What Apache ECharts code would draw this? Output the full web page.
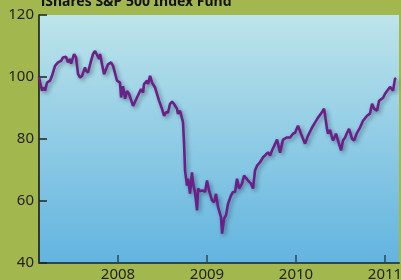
<!DOCTYPE html>
<html><head><meta charset="utf-8">
<script src="https://cdn.jsdelivr.net/npm/echarts@6/dist/echarts.min.js"></script>
<style>html,body{margin:0;padding:0;background:#a2b84e}#c{width:401px;height:280px}</style>
</head><body><div id="c"></div>
<script>
const title = "iShares S&P 500 Index Fund";
const yearTicks = [2008, 2009, 2010, 2011];
const yTicks = [40, 60, 80, 100, 120];
const years = [2007.112,2007.146,2007.169,2007.180,2007.202,2007.236,2007.258,2007.292,2007.326,2007.360,2007.382,2007.404,2007.416,2007.438,2007.461,2007.472,2007.506,2007.528,2007.551,2007.573,2007.596,2007.629,2007.640,2007.663,2007.697,2007.719,2007.742,2007.764,2007.787,2007.798,2007.820,2007.843,2007.865,2007.888,2007.921,2007.944,2007.966,2007.989,2008.022,2008.034,2008.056,2008.079,2008.101,2008.124,2008.146,2008.169,2008.191,2008.213,2008.225,2008.258,2008.281,2008.292,2008.326,2008.337,2008.360,2008.382,2008.393,2008.416,2008.438,2008.461,2008.494,2008.517,2008.539,2008.562,2008.584,2008.607,2008.629,2008.663,2008.674,2008.697,2008.719,2008.730,2008.742,2008.753,2008.775,2008.787,2008.809,2008.831,2008.843,2008.865,2008.888,2008.899,2008.921,2008.955,2008.978,2009.000,2009.022,2009.056,2009.079,2009.101,2009.124,2009.157,2009.169,2009.191,2009.213,2009.236,2009.270,2009.292,2009.315,2009.337,2009.360,2009.393,2009.416,2009.438,2009.461,2009.494,2009.517,2009.539,2009.562,2009.596,2009.629,2009.652,2009.674,2009.685,2009.708,2009.730,2009.742,2009.787,2009.820,2009.854,2009.899,2009.933,2009.966,2009.989,2010.022,2010.056,2010.101,2010.135,2010.180,2010.213,2010.247,2010.281,2010.315,2010.348,2010.360,2010.382,2010.404,2010.416,2010.449,2010.472,2010.506,2010.528,2010.551,2010.573,2010.596,2010.629,2010.652,2010.685,2010.719,2010.753,2010.798,2010.831,2010.854,2010.876,2010.910,2010.933,2010.978,2011.000,2011.022,2011.056,2011.090,2011.112,2011.124];
const prices = [100.0,95.6,96.6,95.6,98.2,98.8,100.4,103.6,104.7,105.2,106.3,105.8,106.5,104.7,105.8,104.3,107.4,106.3,100.9,99.8,100.4,103.1,102.0,101.5,105.2,107.4,108.4,109.0,105.8,107.4,104.1,100.9,101.5,104.1,104.7,103.6,103.1,98.8,98.2,93.4,97.0,93.0,95.5,94.5,94.0,90.7,91.3,93.4,92.9,96.1,95.0,97.7,98.8,97.7,100.4,98.2,98.8,96.6,96.1,92.4,89.7,87.5,88.6,88.6,91.3,92.1,91.3,89.7,88.1,89.1,88.6,85.4,78.5,69.8,65.0,67.2,62.4,69.2,65.7,62.8,57.0,64.0,63.2,63.4,62.9,66.6,63.4,60.2,59.6,62.3,58.0,54.8,49.5,54.3,55.4,59.1,61.8,62.9,62.9,67.2,64.0,65.6,68.2,68.8,66.6,65.6,64.0,69.8,71.4,72.5,74.1,74.7,74.1,75.7,74.7,76.3,76.3,79.8,75.6,79.8,80.5,80.5,81.7,82.0,84.3,81.7,78.5,81.1,83.7,85.3,86.9,88.2,89.8,83.3,81.7,83.0,80.5,79.5,81.7,79.5,76.3,79.5,80.5,82.0,83.3,80.1,79.5,82.0,83.7,85.9,87.5,88.2,91.4,89.8,89.1,92.3,93.3,94.6,94.9,96.8,95.6,99.4,99.7];

const chart = echarts.init(document.getElementById('c'), null, {renderer: 'canvas'});
chart.setOption({
  backgroundColor: '#a2b84e',
  animation: false,
  title: {text: title, left: 36, top: -10, textStyle: {fontFamily: 'Noto Sans', fontWeight: 'bold', fontSize: 14, color: '#111'}},
  grid: {left: 39, right: 2, top: 15, bottom: 17, show: true, borderWidth: 0, containLabel: false, outerBoundsMode: 'none',
    backgroundColor: new echarts.graphic.LinearGradient(0, 0, 0, 1, [{offset: 0, color: '#bde4ea'}, {offset: 1, color: '#62b4e0'}])},
  xAxis: {type: 'value', min: 2007.112, max: 2011.157,
    axisLine: {lineStyle: {color: '#2c4656', width: 2}},
    axisTick: {inside: true, length: 8, customValues: yearTicks, lineStyle: {color: '#2c4656', width: 1.5}},
    axisLabel: {customValues: yearTicks, formatter: v => String(Math.round(v)), fontFamily: 'Noto Sans', fontSize: 15, color: '#222', margin: 4},
    splitLine: {show: false}},
  yAxis: {type: 'value', min: 40, max: 120, interval: 20,
    axisLine: {show: true, lineStyle: {color: '#111', width: 1.5}},
    axisTick: {show: true, inside: true, length: 8, lineStyle: {color: '#222', width: 1.5}},
    axisLabel: {fontFamily: 'Noto Sans', fontSize: 15, color: '#222', margin: 5, verticalAlign: 'middle', padding: [2, 0, 0, 0]},
    splitLine: {show: false}},
  series: [{type: 'line', data: years.map((y, i) => [y, prices[i]]), showSymbol: false, symbol: 'none',
    lineStyle: {color: '#6b1f87', width: 2.6, shadowColor: 'rgba(20,40,60,0.45)', shadowBlur: 4, shadowOffsetX: 2, shadowOffsetY: 2}}]
});
</script></body></html>
